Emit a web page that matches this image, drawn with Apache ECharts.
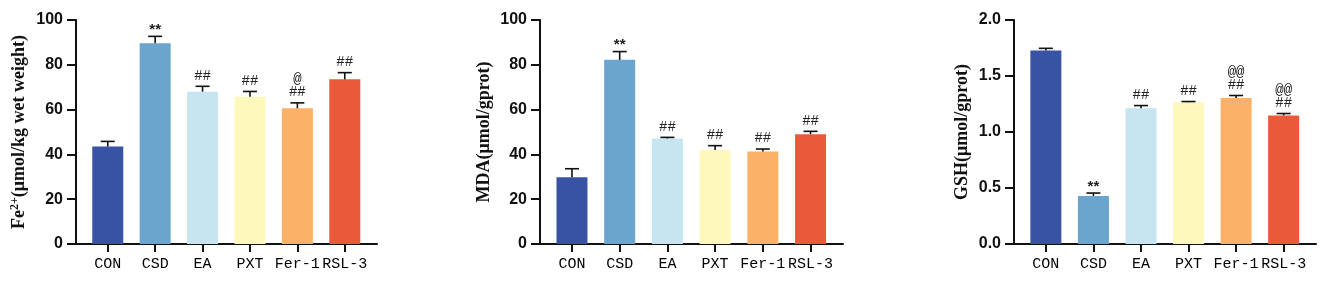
<!DOCTYPE html>
<html>
<head>
<meta charset="utf-8">
<script src="https://cdn.jsdelivr.net/npm/echarts@6/dist/echarts.min.js"></script>
<style>
html,body{margin:0;padding:0;background:#fff;}
#chart{width:1325px;height:284px;}
</style>
</head>
<body>
<div id="chart"></div>
<script>
// ---- data ----
const categories = ['CON', 'CSD', 'EA', 'PXT', 'Fer-1', 'RSL-3'];
const barColors = ['#3953a4', '#6ba5ce', '#c6e5f0', '#fef8bc', '#fbb168', '#ea5939'];

const feMean = [43.5, 89.6, 68.0, 65.7, 60.6, 73.5];
const feSem  = [2.3, 3.1, 2.4, 2.4, 2.4, 3.0];
const feNotes = ['', '**', '##', '##', '@\n##', '##'];

const mdaMean = [29.8, 82.2, 47.1, 42.0, 41.3, 49.0];
const mdaSem  = [3.8, 3.7, 0.5, 1.9, 1.1, 1.3];
const mdaNotes = ['', '**', '##', '##', '##', '##'];

const gshMean = [1.727, 0.429, 1.213, 1.266, 1.304, 1.148];
const gshSem  = [0.02, 0.026, 0.023, 0.006, 0.022, 0.017];
const gshNotes = ['', '**', '##', '##', '@@\n##', '@@\n##'];

const feTicks = [0, 20, 40, 60, 80, 100];
const mdaTicks = [0, 20, 40, 60, 80, 100];
const gshTicks = [0, 0.5, 1.0, 1.5, 2.0];

// ---- build ----
const catIdx = categories.map((c, i) => i);
const panels = [
  {left: 76, width: 301, mean: feMean, sem: feSem, notes: feNotes, ticks: feTicks, dec: 0,
   name: '{b|Fe}{sup|2+}{b|(μmol/kg wet weight)}', gap: 47},
  {left: 540, width: 303, mean: mdaMean, sem: mdaSem, notes: mdaNotes, ticks: mdaTicks, dec: 0,
   name: '{b|MDA(μmol/gprot)}', gap: 47},
  {left: 1014, width: 302, mean: gshMean, sem: gshSem, notes: gshNotes, ticks: gshTicks, dec: 1,
   name: '{b|GSH(μmol/gprot)}', gap: 43}
];

const axisLineStyle = {color: '#111', width: 2};

const grid = [], xAxis = [], yAxis = [], series = [];
panels.forEach((p, k) => {
  grid.push({left: p.left, width: p.width, top: 20, height: 224});
  xAxis.push({
    type: 'value', gridIndex: k, min: -0.67, max: 5.68,
    axisLine: {show: true, onZero: false, lineStyle: axisLineStyle},
    axisTick: {show: true, customValues: catIdx, length: 8, lineStyle: axisLineStyle},
    axisLabel: {show: true, customValues: catIdx, margin: 13,
      formatter: v => categories[Math.round(v)] || '',
      fontFamily: 'Liberation Mono', fontSize: 15, color: '#000'},
    splitLine: {show: false}
  });
  const tmin = p.ticks[0], tmax = p.ticks[p.ticks.length - 1];
  yAxis.push({
    type: 'value', gridIndex: k, min: tmin, max: tmax, interval: p.ticks[1] - p.ticks[0],
    axisLine: {show: true, onZero: false, lineStyle: axisLineStyle},
    axisTick: {show: true, length: 9, lineStyle: axisLineStyle},
    axisLabel: {margin: 13, fontFamily: 'Liberation Sans', fontWeight: 'bold', fontSize: 16, color: '#111',
      formatter: v => v.toFixed(p.dec)},
    splitLine: {show: false},
    name: p.name, nameLocation: 'middle', nameGap: p.gap, nameRotate: 90,
    nameTextStyle: {
      rich: {
        b: {fontFamily: 'Liberation Serif', fontWeight: 'bold', fontSize: 18, color: '#111'},
        sup: {fontFamily: 'Liberation Serif', fontWeight: 'bold', fontSize: 12, color: '#111', verticalAlign: 'top', padding: [0, 0, 8, 0]}
      }
    }
  });
  series.push({
    type: 'bar', xAxisIndex: k, yAxisIndex: k, barWidth: 31,
    data: p.mean.map((m, i) => ({value: [i, m], itemStyle: {color: barColors[i]}})),
    silent: true
  });
  const notes = p.notes;
  series.push({
    type: 'custom', xAxisIndex: k, yAxisIndex: k, clip: false, z: 5, silent: true,
    data: p.mean.map((m, i) => [i, m, p.sem[i]]),
    renderItem: (params, api) => {
      const x = api.value(0), m = api.value(1), s = api.value(2);
      const b = api.coord([x, m]), t = api.coord([x, m + s]);
      const st = {stroke: '#111', lineWidth: 1.6};
      const children = [
        {type: 'line', shape: {x1: b[0], y1: b[1], x2: t[0], y2: t[1]}, style: st},
        {type: 'line', shape: {x1: t[0] - 7, y1: t[1], x2: t[0] + 7, y2: t[1]}, style: st}
      ];
      const note = notes[params.dataIndex];
      if (note) {
        const star = note.indexOf('*') >= 0;
        children.push({type: 'text', x: t[0], y: t[1] - (star ? 0 : 4),
          style: {text: note, align: 'center', verticalAlign: 'bottom',
            fontFamily: star ? 'Liberation Sans' : 'Liberation Mono',
            fontWeight: star ? 'bold' : 'normal',
            fontSize: star ? 15 : 14, lineHeight: 13, fill: '#222'}});
      }
      return {type: 'group', children};
    }
  });
});

const chart = echarts.init(document.getElementById('chart'));
chart.setOption({animation: false, grid, xAxis, yAxis, series});
</script>
</body>
</html>
